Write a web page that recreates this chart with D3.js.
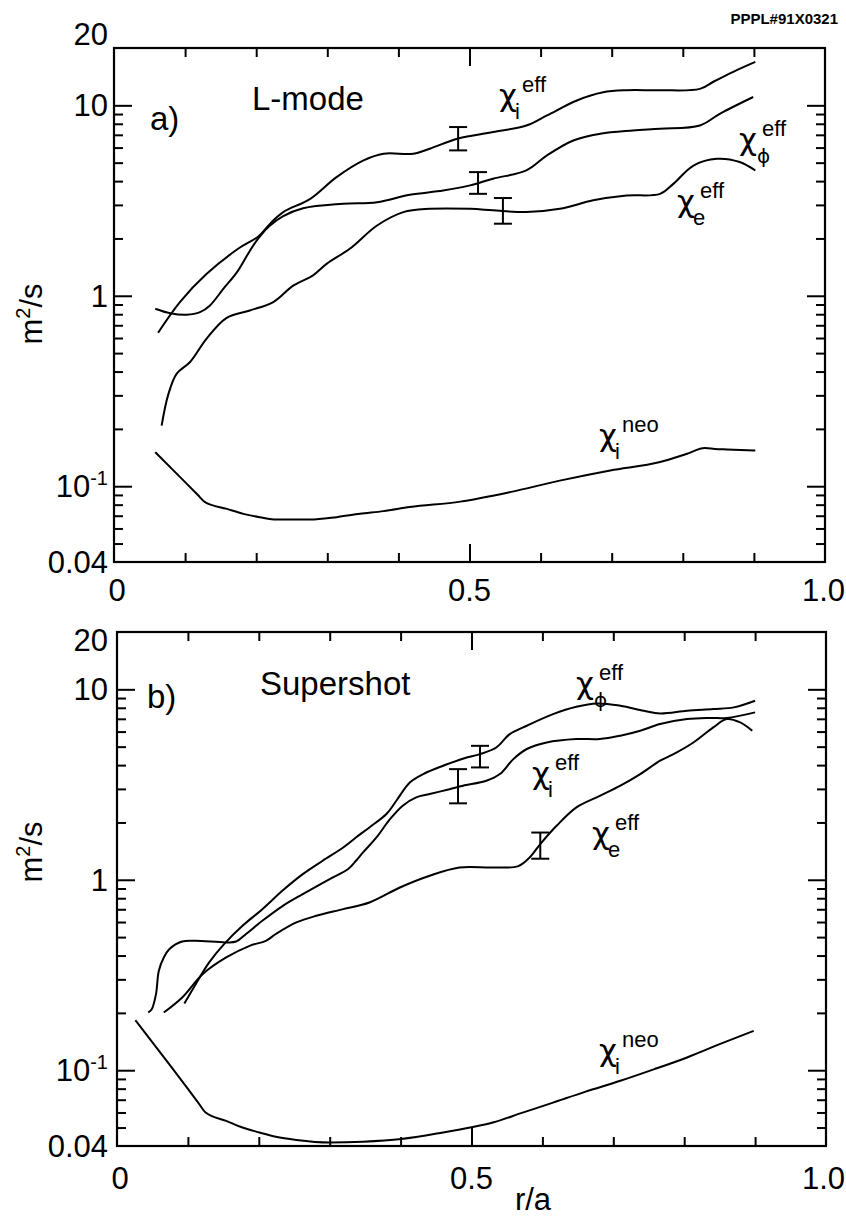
<!DOCTYPE html>
<html>
<head>
<meta charset="utf-8">
<script src="https://cdn.jsdelivr.net/npm/d3@7"></script>
<style>
body { margin: 0; background: #fff; }
svg text { font-family: "Liberation Sans", Arial, Helvetica, sans-serif; fill: #000; }
</style>
</head>
<body>
<script>
// [r/a, chi (m^2/s)]

// a) L-mode
const lmodeChiI = [[0.062,0.64],[0.093,0.93],[0.130,1.30],[0.175,1.77],[0.203,2.05],[0.220,2.40],[0.238,2.75],
	[0.276,3.23],[0.313,4.20],[0.351,5.14],[0.379,5.57],[0.421,5.57],[0.444,5.92],[0.484,6.70],[0.533,7.24],
	[0.580,7.84],[0.609,8.85],[0.651,10.6],[0.688,11.7],[0.721,12.0],[0.768,12.0],[0.824,12.2],[0.843,13.3],
	[0.871,15.0],[0.902,16.9]];
const lmodeChiPhi = [[0.058,0.855],[0.079,0.81],[0.102,0.795],[0.121,0.82],[0.135,0.89],[0.154,1.09],[0.173,1.33],
	[0.191,1.72],[0.203,2.0],[0.219,2.33],[0.238,2.62],[0.266,2.88],[0.322,3.04],[0.370,3.10],[0.416,3.39],
	[0.463,3.57],[0.501,3.80],[0.533,4.12],[0.580,4.55],[0.609,5.46],[0.646,6.54],[0.684,7.10],[0.730,7.38],
	[0.768,7.54],[0.824,7.84],[0.852,9.03],[0.899,11.06]];
const lmodeChiE = [[0.067,0.208],[0.076,0.30],[0.088,0.389],[0.107,0.449],[0.130,0.594],[0.158,0.764],[0.191,0.837],
	[0.224,0.927],[0.252,1.13],[0.280,1.28],[0.299,1.47],[0.332,1.77],[0.370,2.34],[0.407,2.75],[0.444,2.86],
	[0.501,2.86],[0.533,2.81],[0.580,2.75],[0.627,2.86],[0.674,3.17],[0.721,3.36],[0.768,3.43],[0.787,3.88],
	[0.815,4.83],[0.848,5.24],[0.880,5.04],[0.902,4.55]];
const lmodeChiNeo = [[0.058,0.151],[0.093,0.1116],[0.118,0.0899],[0.128,0.0825],[0.159,0.076],[0.182,0.0716],
	[0.205,0.0688],[0.229,0.0668],[0.276,0.0668],[0.313,0.0688],[0.346,0.0716],[0.379,0.074],[0.416,0.0777],
	[0.487,0.0830],[0.557,0.0931],[0.627,0.107],[0.698,0.121],[0.768,0.134],[0.806,0.148],[0.831,0.1585],
	[0.845,0.157],[0.862,0.156],[0.902,0.154]];
const lmodeErrR = [0.484, 0.512, 0.547];
const lmodeErrLo = [5.80, 3.43, 2.39];
const lmodeErrHi = [7.69, 4.46, 3.26];

// b) Supershot
const superChiPhi = [[0.095,0.224],[0.111,0.283],[0.130,0.368],[0.151,0.459],[0.177,0.573],[0.205,0.701],[0.234,0.88],
	[0.262,1.07],[0.290,1.258],[0.319,1.478],[0.337,1.668],[0.356,1.883],[0.380,2.213],[0.394,2.60],[0.413,3.24],
	[0.432,3.59],[0.460,3.97],[0.490,4.35],[0.512,4.57],[0.535,4.95],[0.554,5.82],[0.578,6.44],[0.615,7.41],
	[0.648,8.10],[0.677,8.43],[0.710,8.20],[0.743,7.72],[0.766,7.47],[0.804,7.72],[0.841,7.88],[0.870,8.04],
	[0.900,8.71]];
const superChiI = [[0.044,0.201],[0.049,0.209],[0.055,0.251],[0.059,0.333],[0.066,0.391],[0.074,0.433],[0.092,0.474],
	[0.111,0.478],[0.154,0.469],[0.168,0.474],[0.182,0.519],[0.205,0.609],[0.234,0.730],[0.262,0.841],[0.300,1.009],
	[0.326,1.138],[0.337,1.258],[0.347,1.392],[0.366,1.668],[0.385,2.08],[0.403,2.45],[0.422,2.71],[0.441,2.82],
	[0.469,2.99],[0.488,3.12],[0.521,3.31],[0.540,3.59],[0.559,4.30],[0.578,4.86],[0.606,5.26],[0.648,5.48],
	[0.681,5.48],[0.710,5.71],[0.738,6.06],[0.766,6.57],[0.804,6.98],[0.837,7.07],[0.860,7.07],[0.900,7.57]];
const superChiE = [[0.066,0.201],[0.092,0.241],[0.121,0.320],[0.154,0.391],[0.187,0.450],[0.210,0.478],[0.224,0.519],
	[0.253,0.597],[0.281,0.647],[0.319,0.701],[0.356,0.760],[0.399,0.911],[0.441,1.05],[0.483,1.16],[0.530,1.16],
	[0.566,1.18],[0.582,1.31],[0.597,1.54],[0.620,1.92],[0.648,2.40],[0.681,2.76],[0.710,3.12],[0.738,3.59],
	[0.766,4.22],[0.785,4.57],[0.813,5.26],[0.841,6.31],[0.860,6.98],[0.879,6.70],[0.896,6.06]];
const superChiNeo = [[0.026,0.183],[0.076,0.1048],[0.115,0.0672],[0.125,0.060],[0.154,0.0542],[0.177,0.050],
	[0.201,0.0471],[0.224,0.0447],[0.253,0.0430],[0.300,0.0417],[0.347,0.0421],[0.401,0.0435],[0.460,0.0471],
	[0.498,0.050],[0.530,0.0531],[0.570,0.0595],[0.615,0.0676],[0.660,0.0770],[0.710,0.0880],[0.757,0.1010],
	[0.804,0.1167],[0.850,0.137],[0.898,0.161]];
const superErrR = [0.512, 0.481, 0.597];
const superErrLo = [3.89, 2.52, 1.29];
const superErrHi = [5.05, 3.81, 1.77];

// axes
const xMinorTicks = [0.1, 0.2, 0.3, 0.4, 0.6, 0.7, 0.8, 0.9];
const xMajorTicks = [0.5];
const xTickLabels = [[0, "0"], [0.5, "0.5"], [1, "1.0"]];
const yMajorTicks = [0.1, 1, 10];
const yMinorTicks = [0.05, 0.06, 0.07, 0.08, 0.09, 0.2, 0.3, 0.4, 0.5, 0.6, 0.7, 0.8, 0.9, 2, 3, 4, 5, 6, 7, 8, 9];
const yTickLabels = [[20, "20"], [10, "10"], [1, "1"], [0.1, "10", "-1"], [0.04, "0.04"]];

const width = 846;
const height = 1217;

let svg = d3.select("body").append("svg")
	.attr("width", width)
	.attr("height", height);

let panels = [
	{
		x: d3.scaleLinear().domain([0, 1]).range([114, 825]),
		y: d3.scaleLog().domain([0.04, 20]).range([562, 48]),
		curves: [lmodeChiI, lmodeChiPhi, lmodeChiE],
		neo: lmodeChiNeo,
		err: [lmodeErrR, lmodeErrLo, lmodeErrHi],
		tag: "a)", tagPos: [150, 130],
		title: "L-mode", titlePos: [252, 110],
		top20: 45, yLabelMid: 314, xLabelBase: 601,
		labels: [
			{x: 499, y: 106, sub: "i", sup: "eff"},
			{x: 739, y: 150, sub: "ϕ", sup: "eff"},
			{x: 677, y: 212, sub: "e", sup: "eff"},
			{x: 599, y: 446, sub: "i", sup: "neo"}
		]
	},
	{
		x: d3.scaleLinear().domain([0, 1]).range([117, 826]),
		y: d3.scaleLog().domain([0.04, 20]).range([1146, 632]),
		curves: [superChiPhi, superChiI, superChiE],
		neo: superChiNeo,
		err: [superErrR, superErrLo, superErrHi],
		tag: "b)", tagPos: [147, 708],
		title: "Supershot", titlePos: [260, 695],
		top20: 651, yLabelMid: 852, xLabelBase: 1189,
		labels: [
			{x: 576, y: 694, sub: "ϕ", sup: "eff"},
			{x: 532, y: 784, sub: "i", sup: "eff"},
			{x: 592, y: 844, sub: "e", sup: "eff"},
			{x: 599, y: 1061, sub: "i", sup: "neo"}
		]
	}
];

function ticks(g, axis)
{
	g.call(axis);
	g.select(".domain").remove();
	g.selectAll("line").attr("stroke", "#000").attr("stroke-width", 2);
}

panels.forEach(p => {
	let x = p.x, y = p.y;
	let g = svg.append("g");
	let [x0, x1] = x.range();
	let [yb, yt] = y.range();

	// inward ticks on all four sides
	let sides = [
		[d3.axisBottom(x), `translate(0,${yb})`, xMinorTicks, xMajorTicks],
		[d3.axisTop(x), `translate(0,${yt})`, xMinorTicks, xMajorTicks],
		[d3.axisLeft(y), `translate(${x0},0)`, yMinorTicks, yMajorTicks],
		[d3.axisRight(y), `translate(${x1},0)`, yMinorTicks, yMajorTicks]
	];
	sides.forEach(([ax, tr, minor, major]) => {
		g.append("g").attr("transform", tr)
			.call(ticks, ax.tickValues(minor).tickSize(-9).tickFormat(""));
		g.append("g").attr("transform", tr)
			.call(ticks, ax.tickValues(major).tickSize(-18).tickFormat(""));
	});

	g.append("rect")
		.attr("x", x0).attr("y", yt)
		.attr("width", x1 - x0).attr("height", yb - yt)
		.attr("fill", "none").attr("stroke", "#000").attr("stroke-width", 2.2);

	// tick labels
	yTickLabels.forEach(d => {
		let base = d[0] === 20 ? p.top20 : y(d[0]) + 11;
		let t = g.append("text")
			.attr("x", 108).attr("y", base)
			.attr("text-anchor", "end")
			.style("font-size", "31px");
		t.append("tspan").text(d[1]);
		if (d[2]) t.append("tspan").attr("dy", -12).style("font-size", "20px").text(d[2]);
	});
	xTickLabels.forEach(d => {
		let last = d[0] === 1;
		g.append("text")
			.attr("x", last ? 845 : x(d[0]) + (d[0] === 0 ? 3 : 0)).attr("y", p.xLabelBase)
			.attr("text-anchor", last ? "end" : "middle")
			.style("font-size", "31px")
			.text(d[1]);
	});

	let yl = g.append("text")
		.attr("transform", `translate(42,${p.yLabelMid}) rotate(-90)`)
		.attr("text-anchor", "middle")
		.style("font-size", "31px");
	yl.append("tspan").text("m");
	yl.append("tspan").attr("dy", -12).style("font-size", "20px").text("2");
	yl.append("tspan").attr("dy", 12).text("/s");

	g.append("text").attr("x", p.tagPos[0]).attr("y", p.tagPos[1])
		.style("font-size", "33px").text(p.tag);
	g.append("text").attr("x", p.titlePos[0]).attr("y", p.titlePos[1])
		.style("font-size", "33px").text(p.title);

	// eff curves smooth; neoclassical curve keeps its kinks
	let smooth = d3.line()
		.x(d => x(d[0]))
		.y(d => y(d[1]))
		.curve(d3.curveCatmullRom.alpha(0.5));
	let kinked = d3.line()
		.x(d => x(d[0]))
		.y(d => y(d[1]))
		.curve(d3.curveMonotoneX);
	g.selectAll("path.curve")
		.data(p.curves)
		.enter().append("path")
		.attr("class", "curve")
		.attr("d", smooth)
		.attr("fill", "none")
		.attr("stroke", "#000")
		.attr("stroke-width", 2);
	g.append("path")
		.datum(p.neo)
		.attr("d", kinked)
		.attr("fill", "none")
		.attr("stroke", "#000")
		.attr("stroke-width", 2)
		.attr("stroke-linejoin", "round");

	// error bars
	let [er, lo, hi] = p.err;
	er.forEach((r, i) => {
		let cx = x(r);
		let eb = g.append("g").attr("stroke", "#000").attr("stroke-width", 2);
		eb.append("line").attr("x1", cx).attr("x2", cx).attr("y1", y(lo[i])).attr("y2", y(hi[i]));
		[lo[i], hi[i]].forEach(v => {
			eb.append("line").attr("x1", cx - 9).attr("x2", cx + 9).attr("y1", y(v)).attr("y2", y(v));
		});
	});

	// curve labels
	p.labels.forEach(l => {
		g.append("text").attr("x", l.x).attr("y", l.y)
			.style("font-family", "'DejaVu Sans', sans-serif")
			.style("font-size", "31px").text("χ");
		g.append("text").attr("x", l.x + 23).attr("y", l.y - 14).style("font-size", "22px").text(l.sup);
		g.append("text").attr("x", l.x + (l.sub === "ϕ" ? 18 : 16)).attr("y", l.y + 13)
			.style("font-family", l.sub === "ϕ" ? "'DejaVu Sans', sans-serif" : null)
			.style("font-size", l.sub === "ϕ" ? "20px" : "22px").text(l.sub);
	});
});

svg.append("text")
	.attr("x", 838).attr("y", 24)
	.attr("text-anchor", "end")
	.style("font-size", "15px")
	.style("font-weight", "bold")
	.text("PPPL#91X0321");

svg.append("text")
	.attr("x", 533).attr("y", 1210)
	.attr("text-anchor", "middle")
	.style("font-size", "31px")
	.text("r/a");
</script>
</body>
</html>
